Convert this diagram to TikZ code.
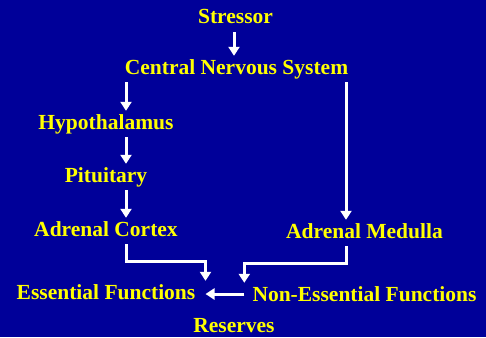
\documentclass[tikz,border=0pt]{standalone}
\usepackage{fontspec}
\setmainfont{Liberation Serif}
\usepackage{xcolor}
\usetikzlibrary{arrows.meta,calc}
\definecolor{slblue}{HTML}{000099}
\definecolor{slyellow}{HTML}{FFFF00}
\tikzset{
  lbl/.style  = {text=slyellow, font=\fontsize{21.5}{24}\selectfont\bfseries,
                 text height=14pt, text depth=4pt, inner xsep=0pt, inner ysep=4pt,
                 anchor=base},
  arr/.style  = {-{Triangle[width=11pt,length=9pt]}, draw=white, line width=3pt,
                 line join=miter},
}

\begin{document}
\begin{tikzpicture}[x=1pt,y=-1pt]
  \fill[slblue] (0,0) rectangle (486,337);
  \useasboundingbox (0,0) rectangle (486,337);
  \node[lbl] (stress) at (235.5,24)  {Stressor};
  \node[lbl] (cns)    at (236.5,74)  {Central Nervous System};
  \node[lbl] (hypo)   at (106,129)   {Hypothalamus};
  \node[lbl] (pit)    at (106,182)   {Pituitary};
  \node[lbl] (cortex) at (106,236)   {Adrenal Cortex};
  \node[lbl] (med)    at (364.5,238) {Adrenal Medulla};
  \node[lbl] (ess)    at (106,299)   {Essential Functions};
  \node[lbl] (ness)   at (364.5,301) {Non-Essential Functions};
  \node[lbl] (res)    at (234,332)   {Reserves};
  % left chain
  \draw[arr] ([xshift=-1.5pt]stress.south) -- ([xshift=-1.5pt]stress.south |- cns.north);
  \draw[arr] ([xshift=20pt]hypo.north |- cns.south) -- ([xshift=20pt]hypo.north);
  \draw[arr] ([xshift=20pt]hypo.south) -- ([xshift=20pt]pit.north);
  \draw[arr] ([xshift=20pt]pit.south) -- ([xshift=20pt]cortex.north);
  % right branch
  \draw[arr] ([xshift=-18.5pt]med.north |- cns.south) -- ([xshift=-18.5pt]med.north);
  % into the functions
  \draw[arr] ([xshift=20pt]cortex.south) -- ++(0,17) -| ([xshift=10pt]ess.north east);
  \draw[arr] ([xshift=-18.5pt]med.south) -- ++(0,17) -| ([xshift=-8pt]ness.north west);
  \draw[arr] ($(ness.west |- ess.east)+(-8,0)$) -- ([xshift=10pt]ess.east);
\end{tikzpicture}
\end{document}
